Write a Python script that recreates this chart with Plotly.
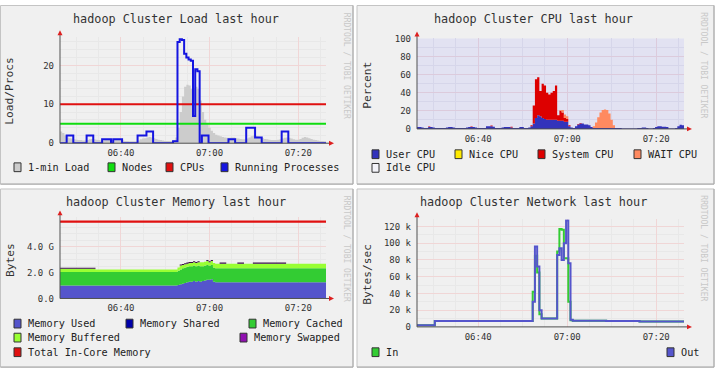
import pandas as pd
import plotly.graph_objects as go

W, H = 715, 376
MONO = "DejaVu Sans Mono"

# ---------------- data ----------------
times = pd.date_range("2013-05-20 06:26:15", periods=121, freq="30s")
x_range = ["2013-05-20 06:26:15", "2013-05-20 07:26:15"]
tick_times = ["2013-05-20 06:40", "2013-05-20 07:00", "2013-05-20 07:20"]
tick_labels = ["06:40", "07:00", "07:20"]

# Load panel
load_one = [
    3, 2.6, 2, 1.5, 1.3, 1.2, 1, 0.9, 0.8, 0.8,
    0.7, 0.7, 0.8, 1, 1.1, 1, 0.9, 0.8, 0.7, 0.7,
    0.8, 0.9, 0.9, 0.8, 0.8, 0.9, 0.9, 0.8, 0.7, 0.6,
    0.6, 0.5, 0.5, 0.5, 0.5, 0.7, 1, 1.2, 1.3, 1.5,
    1.6, 1.5, 1.3, 1.1, 0.9, 0.8, 0.7, 0.6, 0.6, 0.6,
    0.6, 0.8, 1.5, 4, 8, 12, 14.5, 15, 14.8, 14,
    14.2, 14.5, 14, 11, 8, 6, 5, 4, 3.2, 2.6,
    2.2, 2, 1.8, 1.6, 1.5, 1.4, 1.4, 1.5, 1.5, 1.3,
    1.2, 1.1, 1, 1, 1.2, 1.5, 1.8, 2, 1.9, 1.7,
    1.5, 1.3, 1.1, 1, 0.9, 0.8, 0.8, 0.8, 0.9, 1,
    1.2, 1.4, 1.5, 1.4, 1.2, 1, 0.9, 0.9, 1.1, 1.4,
    1.6, 1.5, 1.3, 1.1, 0.9, 0.8, 0.7, 0.6, 0.6, 0.5,
    0.5]
proc_run = [
    0, 0, 0, 2, 2, 2, 0, 0, 0, 0,
    0, 0, 2, 2, 2, 0, 0, 0, 0, 1,
    1, 1, 1, 0, 1, 1, 1, 1, 0, 0,
    0, 0, 0, 0, 0, 2, 2, 2, 2, 3,
    3, 3, 0, 0, 0, 0, 0, 0, 0, 0,
    0, 0.5, 0.5, 26, 26.7, 26.5, 23, 22, 21.5, 21.2,
    7, 19, 18.5, 0, 2, 2, 2, 0, 0, 0,
    0, 0, 0, 0, 0, 0, 1, 1, 1, 0,
    0, 0, 0, 0, 4, 4, 4, 4, 1.5, 1.5,
    1.5, 0, 0, 0, 0, 0, 0, 0, 0, 0,
    3, 3, 3, 0, 0, 0, 0, 0, 0, 0,
    0, 0, 0, 0, 0, 0, 0, 0, 0, 0,
    0]
num_nodes = 5
num_cpus = 10

# CPU panel (percent)
cpu_user = [
    2, 2, 1.5, 1, 1, 2, 2, 1.5, 1, 1,
    1, 1, 1, 1.5, 2, 2, 1.5, 1, 1, 1,
    1, 1, 1.5, 2, 2, 2, 1.5, 1, 1, 1,
    1, 3, 3, 3, 2.5, 1, 1, 1, 1.5, 2,
    2, 2, 1.5, 1, 1, 1, 2, 2, 1, 1,
    1.5, 3, 6, 12, 15, 14, 12, 11, 10, 10,
    10, 10, 10, 9, 9, 9, 8, 8, 3, 1.5,
    1, 3, 5, 6, 6, 5, 5, 4, 2, 1,
    1, 1, 1, 1, 1, 1, 1, 1, 1, 1,
    1, 1, 0.5, 0.5, 0.5, 0.5, 0.5, 0.5, 0.5, 1,
    1, 1.5, 1.5, 1, 0.5, 0.5, 1, 2, 3, 3,
    2.5, 2.5, 2, 0.5, 0.5, 0.5, 1, 3, 4.5, 4,
    2]
cpu_nice = [0] * 121
cpu_system = [
    0, 0, 0, 0, 0, 0.8, 0, 0, 0, 0,
    0, 0, 0, 0, 0, 0, 0, 0, 0, 0,
    0, 0, 0, 0, 0.8, 0, 0, 0, 0, 0,
    0, 0, 0, 0.8, 0, 0, 0, 0, 0, 0,
    0, 0, 0.8, 0, 0, 0, 0, 0, 0, 0,
    0, 1, 20, 43, 42, 28, 38, 37, 30, 28,
    30, 32, 38, 6, 11, 9, 4, 3, 1, 0,
    0, 0, 0.5, 0.5, 0, 0, 0, 0, 0, 0,
    0, 0, 0, 0, 0, 0, 0, 0, 0, 0,
    0, 0, 0, 0, 0, 0, 0, 0, 0, 0,
    0, 0, 0, 0, 0, 0, 0, 0, 0, 0,
    0, 0, 0, 0, 0, 0, 0, 0, 0, 0,
    0]
cpu_wio = [0] * 64 + [1, 3, 4, 3, 0, 0, 0, 0, 0, 0, 0, 0, 0, 0, 0, 2,
                     6, 12, 17, 20, 20.5, 20, 16, 9, 3] + [0] * 32

# Memory panel (GB)
mem_used = [1.0] * 53 + [1.05, 1.1, 1.15, 1.2, 1.25, 1.3, 1.3, 1.35, 1.3, 1.35] \
    + [1.3, 1.35, 1.4, 1.45, 1.45, 1.5] + [1.3] + [1.25] * 51
mem_shared = [0] * 121
mem_cached = [1.05] * 53 + [1.1, 1.15, 1.2, 1.2, 1.2, 1.2, 1.2, 1.2, 1.2, 1.2] \
    + [1.2, 1.15, 1.15, 1.15, 1.1, 1.1] + [1.1] * 52
mem_buffers = [0.25] * 16 + [0.2] * 37 + [0.25, 0.3, 0.25, 0.25, 0.25, 0.25, 0.25, 0.25, 0.25, 0.25] \
    + [0.3, 0.3, 0.3, 0.3, 0.25, 0.3] + [0.35] * 52
mem_swapped = [0.08] * 16 + [0] * 38 + [0.08] * 9 + [0] * 3 + [0.08] * 3 + [0] * 3 \
    + [0.08] * 3 + [0] * 5 + [0.08] * 3 + [0] * 4 + [0.08] * 15 + [0] * 19
mem_total = 5.95

# Network panel (kB/s)
net_in = [2] * 8 + [7] * 44 + [42, 85, 65, 15] + [10] * 7 \
    + [90, 117, 116, 82, 82, 30, 8] + [7.5] * 15 + [7] * 15 + [6.5] * 21
net_out = [2] * 8 + [7] * 44 + [30, 96, 72, 20] + [10] * 7 \
    + [86, 94, 80, 100, 127, 76, 8.5] + [7.5] * 15 + [7] * 15 + [6.5] * 21

# ---------------- layout geometry (pixels) ----------------
PA = {
    1: (60, 326, 33, 142),
    2: (417, 684, 34.3, 127.3),
    3: (60, 326, 218, 301.5),
    4: (417, 684, 220, 330.7),
}
PANELS = [(0.5, 0.5, 353, 184), (357, 0.5, 714, 184), (0.5, 189, 353, 372), (357, 189, 714, 372)]

def px(x):
    return x / W

def py(y):
    return 1 - y / H

MAJ = "#f0d6d6"
MIN = "#e8e8e8"

fig = go.Figure()

def xaxis_cfg(p, anchor, minc=MIN, majc=MAJ):
    return dict(domain=[px(p[0]), px(p[1])], anchor=anchor, type="date", range=x_range,
                tickmode="array", tickvals=tick_times, ticktext=tick_labels,
                showgrid=True, gridcolor=majc, gridwidth=1,
                minor=dict(tick0="2013-05-20 06:25:00", dtick=300000, showgrid=True, gridcolor=minc, ticks=""),
                showline=False, zeroline=False, ticks="",
                tickfont=dict(family=MONO, size=9, color="#333"), ticklabelstandoff=3,
                fixedrange=True)

def yaxis_cfg(p, anchor, rng, tv, tt, mdt, minc=MIN, majc=MAJ):
    return dict(domain=[py(p[3]), py(p[2])], anchor=anchor, range=rng,
                tickmode="array", tickvals=tv, ticktext=tt,
                showgrid=True, gridcolor=majc, gridwidth=1,
                minor=dict(dtick=mdt, tick0=0, showgrid=True, gridcolor=minc, ticks=""),
                showline=False, zeroline=False, ticks="",
                tickfont=dict(family=MONO, size=9, color="#333"), ticklabelstandoff=5,
                fixedrange=True)

# ---- Panel 1: Load
fig.add_trace(go.Scatter(x=times, y=load_one, xaxis="x", yaxis="y", mode="lines",
                         fill="tozeroy", fillcolor="#cccccc",
                         line=dict(width=0, color="#cccccc", shape="hv"), name="1-min Load"))
fig.add_trace(go.Scatter(x=times, y=[num_nodes] * len(times), xaxis="x", yaxis="y", mode="lines",
                         line=dict(width=2, color="#10dd10"), name="Nodes"))
fig.add_trace(go.Scatter(x=times, y=[num_cpus] * len(times), xaxis="x", yaxis="y", mode="lines",
                         line=dict(width=2, color="#e01010"), name="CPUs"))
fig.add_trace(go.Scatter(x=times, y=proc_run, xaxis="x", yaxis="y", mode="lines",
                         line=dict(width=2, color="#1515e0", shape="hv"), name="Running Processes"))

# ---- Panel 2: CPU
for ys, col, nm in [(cpu_user, "#3333bb", "User CPU"), (cpu_nice, "#ffea00", "Nice CPU"),
                    (cpu_system, "#dd0000", "System CPU"), (cpu_wio, "#ff8a60", "WAIT CPU")]:
    fig.add_trace(go.Scatter(x=times, y=ys, xaxis="x2", yaxis="y2", mode="lines",
                             stackgroup="cpu", fillcolor=col,
                             line=dict(width=0, color=col, shape="hv"), name=nm))

# ---- Panel 3: Memory
for ys, col, nm in [(mem_used, "#5555cc", "Memory Used"), (mem_shared, "#0000aa", "Memory Shared"),
                    (mem_cached, "#33cc33", "Memory Cached"), (mem_buffers, "#99ff33", "Memory Buffered"),
                    (mem_swapped, "#3a1048", "Memory Swapped")]:
    fig.add_trace(go.Scatter(x=times, y=ys, xaxis="x3", yaxis="y3", mode="lines",
                             stackgroup="mem", fillcolor=col,
                             line=dict(width=0, color=col, shape="hv"), name=nm))
fig.add_trace(go.Scatter(x=times, y=[mem_total] * len(times), xaxis="x3", yaxis="y3", mode="lines",
                         line=dict(width=2.2, color="#e01010"), name="Total In-Core Memory"))

# ---- Panel 4: Network
fig.add_trace(go.Scatter(x=times, y=net_in, xaxis="x4", yaxis="y4", mode="lines",
                         line=dict(width=2, color="#33cc33", shape="hv"), name="In"))
fig.add_trace(go.Scatter(x=times, y=net_out, xaxis="x4", yaxis="y4", mode="lines",
                         line=dict(width=2, color="#5555cc", shape="hv"), name="Out"))

# ---------------- decorations ----------------
shapes = []
for (x0, y0, x1, y1) in PANELS:
    shapes.append(dict(type="rect", xref="paper", yref="paper", layer="below",
                       x0=px(x0), x1=px(x1), y0=py(y1), y1=py(y0),
                       fillcolor="#f0f0f0", line=dict(color="#c4c4c4", width=1)))
    shapes.append(dict(type="line", xref="paper", yref="paper", layer="below",
                       x0=px(x1), x1=px(x1), y0=py(y1), y1=py(y0), line=dict(color="#a8a8a8", width=1)))
    shapes.append(dict(type="line", xref="paper", yref="paper", layer="below",
                       x0=px(x0), x1=px(x1), y0=py(y1), y1=py(y1), line=dict(color="#a8a8a8", width=1)))

# Idle CPU fills the rest of the CPU canvas up to 100 %
shapes.append(dict(type="rect", xref="x2 domain", yref="y2 domain", layer="below",
                   x0=0, x1=1, y0=0, y1=1, fillcolor="#e2e2f2", line=dict(width=0)))

for k, (l, r, t, b) in PA.items():
    shapes.append(dict(type="line", xref="paper", yref="paper", x0=px(l), x1=px(l),
                       y0=py(b), y1=py(t - 3), line=dict(color="#505050", width=1)))
    shapes.append(dict(type="line", xref="paper", yref="paper", x0=px(l), x1=px(r + 4),
                       y0=py(b), y1=py(b), line=dict(color="#505050", width=1)))
    shapes.append(dict(type="path", xref="paper", yref="paper",
                       path=f"M {px(l - 2.5)} {py(t - 2)} L {px(l + 2.5)} {py(t - 2)} L {px(l)} {py(t - 7)} Z",
                       fillcolor="#dd2020", line=dict(width=0)))
    shapes.append(dict(type="path", xref="paper", yref="paper",
                       path=f"M {px(r + 3)} {py(b - 2.5)} L {px(r + 3)} {py(b + 2.5)} L {px(r + 8)} {py(b)} Z",
                       fillcolor="#dd2020", line=dict(width=0)))

annotations = []

def text(x, y, s, size, color="#222", anchor="left", angle=0):
    annotations.append(dict(x=px(x), y=py(y), xref="paper", yref="paper", text=s, showarrow=False,
                            xanchor=anchor, yanchor="middle", textangle=angle,
                            font=dict(family=MONO, size=size, color=color)))

# titles
text(176, 14, "hadoop Cluster Load last hour", 11.8, "#333", "center")
text(533, 14, "hadoop Cluster CPU last hour", 11.8, "#333", "center")
text(176, 202, "hadoop Cluster Memory last hour", 11.8, "#333", "center")
text(533, 202, "hadoop Cluster Network last hour", 11.8, "#333", "center")

# y titles
text(10, 89, "Load/Procs", 11.2, "#333", "center", -90)
text(368, 82, "Percent", 11.2, "#333", "center", -90)
text(10, 262, "Bytes", 11.2, "#333", "center", -90)
text(368, 276, "Bytes/sec", 11.2, "#333", "center", -90)

# watermarks
for (wx, wy) in [(346.5, 62), (704, 62), (346.5, 250), (704, 250)]:
    text(wx, wy, "RRDTOOL / TOBI OETIKER", 8, "#c8c8c8", "center", 90)

# legends
legend_items = [
    (14, 166.7, "#cccccc", "1-min Load"),
    (108, 166.7, "#10dd10", "Nodes"),
    (166, 166.7, "#e01010", "CPUs"),
    (221, 166.7, "#1515e0", "Running Processes"),
    (372, 153.3, "#3333bb", "User CPU"),
    (455, 153.3, "#ffea00", "Nice CPU"),
    (538, 153.3, "#dd0000", "System CPU"),
    (634, 153.3, "#ff8a60", "WAIT CPU"),
    (372, 167.3, "#f4f4fa", "Idle CPU"),
    (14, 327.3, "#5555cc", "Memory Used"),
    (126, 327.3, "#0000aa", "Memory Shared"),
    (249, 327.3, "#33cc33", "Memory Cached"),
    (14, 341.7, "#99ff33", "Memory Buffered"),
    (240, 341.7, "#9010b0", "Memory Swapped"),
    (14, 356.7, "#e01010", "Total In-Core Memory"),
    (372, 356.7, "#33cc33", "In"),
    (667, 356.7, "#5555cc", "Out"),
]
for (bx, by, col, lab) in legend_items:
    shapes.append(dict(type="rect", xref="paper", yref="paper",
                       x0=px(bx), x1=px(bx + 7), y0=py(by + 4.5), y1=py(by - 4.5),
                       fillcolor=col, line=dict(color="#333", width=1)))
    text(bx + 12, by, lab, 10.2, "#222", "left")

fig.update_layout(
    width=W, height=H, autosize=False,
    margin=dict(l=0, r=0, t=0, b=0),
    paper_bgcolor="white",
    plot_bgcolor="white",
    showlegend=False,
    xaxis=xaxis_cfg(PA[1], "y"),
    yaxis=yaxis_cfg(PA[1], "x", [0, 27.25], [0, 10, 20], ["0", "10", "20"], 2),
    xaxis2=xaxis_cfg(PA[2], "y2", "#d6d6ea", "#dccbdc"),
    yaxis2=yaxis_cfg(PA[2], "x2", [0, 100], [0, 20, 40, 60, 80, 100],
                     ["0", "20", "40", "60", "80", "100"], 10, "#d6d6ea", "#dccbdc"),
    xaxis3=xaxis_cfg(PA[3], "y3"),
    yaxis3=yaxis_cfg(PA[3], "x3", [0, 6.3], [0, 2, 4], ["0.0", "2.0 G", "4.0 G"], 0.5),
    xaxis4=xaxis_cfg(PA[4], "y4"),
    yaxis4=yaxis_cfg(PA[4], "x4", [0, 128.7], [0, 20, 40, 60, 80, 100, 120],
                     ["0", "20 k", "40 k", "60 k", "80 k", "100 k", "120 k"], 10),
    shapes=shapes,
    annotations=annotations,
)

fig.write_html("out.html")
